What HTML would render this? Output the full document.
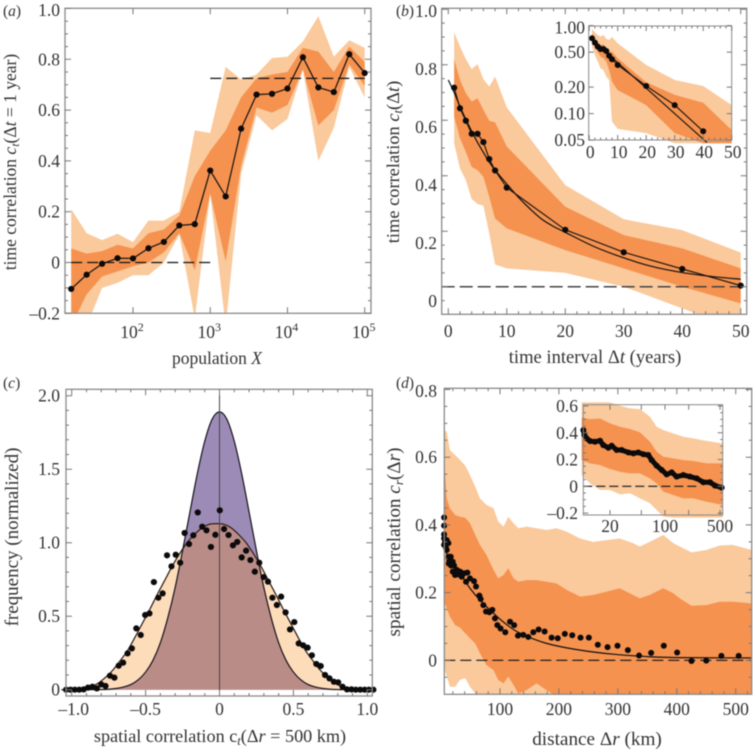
<!DOCTYPE html>
<html>
<head>
<meta charset="utf-8">
<title>Correlation panels</title>
<style>
html,body{margin:0;padding:0;background:#fff;}
#fig{display:block;filter:blur(.4px);}
text{font-family:"Liberation Serif",serif;fill:#333;}
.tl{font-size:17.5px;}
.pl{font-size:15.5px;}
</style>
</head>
<body>
<svg id="fig" xmlns="http://www.w3.org/2000/svg" width="753" height="754" viewBox="0 0 753 754">
<defs>
<clipPath id="clip-a"><rect x="65" y="8" width="306" height="305"/></clipPath>
<clipPath id="clip-b"><rect x="441.7" y="8.3" width="305" height="306"/></clipPath>
<clipPath id="clip-d"><rect x="444.3" y="388.3" width="307.4" height="306"/></clipPath>
<clipPath id="clip-d-inset"><rect x="578" y="400" width="146" height="118"/></clipPath>
</defs>
<g id="panel-a"></g>
<g id="panel-b"></g>
<g id="panel-c"></g>
<g id="panel-d"></g>

<text class="pl" x="3" y="16">(<tspan font-style="italic">a</tspan>)</text>
<text class="pl" x="396" y="16">(<tspan font-style="italic">b</tspan>)</text>
<text class="pl" x="3" y="388">(<tspan font-style="italic">c</tspan>)</text>
<text class="pl" x="396" y="388">(<tspan font-style="italic">d</tspan>)</text>

<text font-size="17.5" text-anchor="middle" transform="translate(16,162) rotate(-90)">time correlation <tspan font-style="italic">c</tspan><tspan font-style="italic" font-size="12" dy="3">t</tspan><tspan dy="-3">(Δ</tspan><tspan font-style="italic">t</tspan> = 1 year)</text>
<text font-size="17.5" text-anchor="middle" x="217" y="364">population <tspan font-style="italic">X</tspan></text>

<text font-size="18.4" text-anchor="middle" transform="translate(399,162) rotate(-90)">time correlation <tspan font-style="italic">c</tspan><tspan font-style="italic" font-size="12.5" dy="3">t</tspan><tspan dy="-3">(Δ</tspan><tspan font-style="italic">t</tspan>)</text>
<text font-size="18.6" text-anchor="middle" x="595" y="363">time interval Δ<tspan font-style="italic">t</tspan> (years)</text>

<text font-size="19" text-anchor="middle" transform="translate(18,537) rotate(-90)">frequency (normalized)</text>
<text font-size="18.2" text-anchor="middle" x="220" y="742">spatial correlation c<tspan font-style="italic" font-size="12.5" dy="3">t</tspan><tspan dy="-3">(Δ</tspan><tspan font-style="italic">r</tspan> = 500 km)</text>

<text font-size="19.2" text-anchor="middle" transform="translate(400,542) rotate(-90)">spatial correlation <tspan font-style="italic">c</tspan><tspan font-style="italic" font-size="13" dy="3">r</tspan><tspan dy="-3">(Δ</tspan><tspan font-style="italic">r</tspan>)</text>
<text font-size="19.2" text-anchor="middle" x="597" y="745">distance Δ<tspan font-style="italic">r</tspan> (km)</text>
</svg>

<script>
// ---------- Panel (a) data ----------
const aLogPopulation=[1.2,1.4,1.6,1.8,2.0,2.2,2.4,2.6,2.8,3.0,3.2,3.4,3.6,3.8,4.0,4.2,4.4,4.6,4.8,5.0];
const aCorrelation=[-0.104,-0.048,-0.005,0.017,0.016,0.056,0.081,0.146,0.151,0.362,0.26,0.527,0.661,0.664,0.685,0.808,0.689,0.671,0.82,0.746];
const aOuterUpper=[0.21,0.115,0.088,0.113,0.08,0.165,0.165,0.2,0.52,0.51,0.77,0.72,0.74,0.805,0.81,0.87,0.97,0.81,0.875,0.845];
const aOuterLower=[-0.35,-0.25,-0.1,-0.08,-0.05,-0.05,0.0,0.11,-0.22,0.27,-0.25,0.35,0.58,0.52,0.565,0.76,0.4,0.53,0.77,0.65];
const aInnerUpper=[0.055,0.035,0.045,0.07,0.055,0.115,0.13,0.185,0.34,0.44,0.52,0.65,0.725,0.74,0.75,0.845,0.83,0.75,0.85,0.79];
const aInnerLower=[-0.25,-0.125,-0.055,-0.035,-0.015,0.0,0.04,0.115,-0.03,0.27,0.005,0.38,0.61,0.59,0.62,0.76,0.54,0.6,0.78,0.695];
const aYTicks=[-0.2,0,0.2,0.4,0.6,0.8,1.0];
const aYLabels=["–0.2","0","0.2","0.4","0.6","0.8","1.0"];
const aYMinor=[-0.15,-0.1,-0.05,0.05,0.1,0.15,0.25,0.3,0.35,0.45,0.5,0.55,0.65,0.7,0.75,0.85,0.9,0.95];
const aXTicks=[2,3,4,5];

// ---------- Panel (b) data ----------
const bInterval=[1,2,3,4,5,6,7,8,10,20,30,40,50];
const bCorrelation=[0.717,0.643,0.598,0.551,0.551,0.521,0.46,0.419,0.357,0.205,0.124,0.064,0.004];
const bOuterUpper=[0.917,0.865,0.82,0.784,0.802,0.748,0.721,0.757,0.646,0.366,0.243,0.204,0.123];
const bOuterLower=[0.517,0.426,0.384,0.316,0.298,0.292,0.192,0.08,0.066,0.05,0,-0.078,-0.156];
const bInnerUpper=[0.819,0.745,0.697,0.667,0.679,0.637,0.598,0.592,0.505,0.288,0.186,0.138,0.066];
const bInnerLower=[0.613,0.535,0.486,0.432,0.42,0.396,0.324,0.246,0.21,0.132,0.066,0,-0.06];
const bFitInterval=[0,1,2,3,4,5,6,7,8,10,12,14,16,18,20,25,30,35,40,45,50];
const bFitValue=[0.745,0.7,0.649,0.603,0.56,0.52,0.484,0.449,0.42,0.37,0.322,0.28,0.243,0.217,0.196,0.144,0.104,0.072,0.051,0.037,0.027];
const bYTicks=[0,0.2,0.4,0.6,0.8,1.0];
const bYLabels=["0","0.2","0.4","0.6","0.8","1.0"];
const bYMinor=[-0.05,0.05,0.1,0.15,0.25,0.3,0.35,0.45,0.5,0.55,0.65,0.7,0.75,0.85,0.9,0.95];
const bXTicks=[0,10,20,30,40,50];
const bXMinor=[2,4,6,8,12,14,16,18,22,24,26,28,32,34,36,38,42,44,46,48];

// Inset of (b), log scale
const biInterval=[1,2,3,4,5,6,7,8,10,20,30,40];
const biCorrelation=[0.717,0.64,0.576,0.542,0.542,0.514,0.455,0.414,0.357,0.206,0.125,0.063];
const biBandInterval=[1,2,3,4,5,6,7,8,10,20,30,40,50];
const biOuterUpper=[0.915,0.839,0.782,0.749,0.782,0.704,0.686,0.742,0.629,0.357,0.241,0.206,0.125];
const biInnerUpper=[0.817,0.717,0.657,0.602,0.612,0.561,0.506,0.506,0.425,0.227,0.163,0.133,0.065];
const biInnerLower=[0.657,0.576,0.497,0.444,0.425,0.389,0.313,0.231,0.185,0.125,0.06,0.046,0.046];
const biOuterLower=[0.576,0.463,0.389,0.327,0.313,0.263,0.241,0.081,0.067,0.06,0.046,0.046,0.046];
const biFitInterval=[0,41.3];
const biFitValue=[0.74,0.047];
const biYTicks=[0.05,0.1,0.2,0.5,1];
const biYLabels=["0.05","0.10","0.20","0.50","1.00"];
const biXTicks=[0,10,20,30,40,50];
const biXMinor=[2,4,6,8,12,14,16,18,22,24,26,28,32,34,36,38,42,44,46,48];

// ---------- Panel (c) data ----------
const cBinCorrelation=[-1.038,-1.008,-0.979,-0.949,-0.919,-0.89,-0.86,-0.83,-0.8,-0.771,-0.741,-0.711,-0.682,-0.652,-0.622,-0.593,-0.563,-0.533,-0.503,-0.474,-0.444,-0.414,-0.385,-0.355,-0.325,-0.296,-0.266,-0.236,-0.206,-0.177,-0.147,-0.117,-0.088,-0.058,-0.028,0.002,0.031,0.061,0.091,0.12,0.15,0.18,0.209,0.239,0.269,0.299,0.328,0.358,0.388,0.417,0.447,0.477,0.506,0.536,0.566,0.596,0.625,0.655,0.685,0.714,0.744,0.774,0.803,0.833,0.863,0.893,0.922,0.952,0.982,1.011,1.041];
const cFrequency=[0,0,0,0,0.002,0.014,0.02,0.009,0.036,0.025,0.095,0.082,0.163,0.184,0.247,0.281,0.417,0.372,0.508,0.519,0.732,0.626,0.655,0.914,0.839,0.918,0.864,1.066,0.991,1.05,1.206,1.109,1.084,0.971,1.054,1.22,1.093,1.052,0.982,1.005,0.9,0.946,0.882,0.803,0.864,0.766,0.735,0.626,0.576,0.633,0.526,0.41,0.46,0.315,0.302,0.286,0.234,0.175,0.161,0.1,0.077,0.054,0.05,0.02,0.002,0.002,0,0,0,0,0];
const cOrangeX=[-1.07,-0.97,-0.92,-0.87,-0.82,-0.77,-0.72,-0.67,-0.62,-0.57,-0.52,-0.47,-0.42,-0.37,-0.32,-0.27,-0.22,-0.17,-0.12,-0.07,-0.02,0.03,0.08,0.13,0.18,0.23,0.28,0.33,0.38,0.43,0.48,0.53,0.58,0.63,0.68,0.73,0.78,0.83,0.88,0.93,1.03];
const cOrangeY=[0,0,0.005,0.02,0.045,0.085,0.135,0.2,0.27,0.36,0.455,0.55,0.65,0.745,0.84,0.925,1.0,1.055,1.1,1.125,1.13,1.125,1.1,1.055,1.0,0.925,0.84,0.745,0.65,0.55,0.455,0.36,0.27,0.2,0.135,0.085,0.045,0.02,0.005,0,0];
const cPurpleX=[-1.05,-0.85,-0.8,-0.75,-0.7,-0.65,-0.6,-0.55,-0.5,-0.45,-0.4,-0.35,-0.3,-0.25,-0.2,-0.15,-0.1,-0.05,0,0.05,0.1,0.15,0.2,0.25,0.3,0.35,0.4,0.45,0.5,0.55,0.6,0.65,0.7,0.75,0.8,0.85,1.05];
const cPurpleY=[0,0,0.001,0.003,0.008,0.018,0.035,0.067,0.12,0.2,0.32,0.488,0.695,0.945,1.21,1.47,1.69,1.84,1.89,1.84,1.69,1.47,1.21,0.945,0.695,0.488,0.32,0.2,0.12,0.067,0.035,0.018,0.008,0.003,0.001,0,0];
const cYTicks=[0,0.5,1.0,1.5,2.0];
const cYLabels=["0","0.5","1.0","1.5","2.0"];
const cYMinor=[0.1,0.2,0.3,0.4,0.6,0.7,0.8,0.9,1.1,1.2,1.3,1.4,1.6,1.7,1.8,1.9];
const cXTicks=[-1,-0.5,0,0.5,1];
const cXLabels=["–1.0","–0.5","0","0.5","1.0"];
const cXMinor=[-0.9,-0.8,-0.7,-0.6,-0.4,-0.3,-0.2,-0.1,0.1,0.2,0.3,0.4,0.6,0.7,0.8,0.9];

// ---------- Panel (d) data ----------
const dDistance=[5.1,5.1,5.1,5.1,6.8,5.1,9.6,8.5,12.4,9.6,14.1,16.4,13,19.8,16.9,22,19.8,25.4,29.4,35,39,44.6,49,55.9,59.3,65,67.2,71.8,76.3,82,87,91.5,95.5,101,109,117,124,130.5,139.5,148,156.5,165.5,175.7,187.6,198,210,222.6,236.7,250.8,266,282.5,299.4,317,336,356.5,378,400.6,425,450,475.7,505,23.7,32.2,42.4,26.6,13];
const dCorrelation=[0.422,0.398,0.372,0.36,0.35,0.341,0.355,0.331,0.346,0.326,0.296,0.306,0.286,0.291,0.28,0.28,0.262,0.262,0.254,0.247,0.257,0.259,0.242,0.234,0.218,0.191,0.181,0.163,0.144,0.142,0.149,0.124,0.104,0.094,0.083,0.114,0.104,0.073,0.075,0.069,0.083,0.091,0.085,0.067,0.065,0.078,0.074,0.067,0.067,0.046,0.039,0.043,0.03,0.014,0.022,0.043,0.023,-0.002,-0.001,0.013,0.013,0.252,0.262,0.232,0.267,0.306];
const dBandDistance=[5.6,9.6,15,24,32,41,49,58,66,77,89,97,106,114,123,131,145,162,179,196,213,236,258,281,303,326,337,354,377,394,405,425,450,473,495,527];
const dOuterUpper=[0.68,0.675,0.621,0.606,0.592,0.575,0.547,0.513,0.478,0.459,0.449,0.41,0.395,0.424,0.405,0.39,0.395,0.39,0.385,0.39,0.38,0.36,0.35,0.355,0.36,0.346,0.336,0.35,0.37,0.346,0.336,0.319,0.326,0.339,0.341,0.326];
const dInnerUpper=[0.582,0.478,0.449,0.429,0.424,0.421,0.405,0.37,0.341,0.311,0.267,0.242,0.252,0.272,0.242,0.232,0.237,0.237,0.232,0.227,0.208,0.188,0.193,0.203,0.213,0.193,0.183,0.193,0.213,0.198,0.183,0.161,0.163,0.173,0.173,0.168];
const dInnerLower=[0.173,0.154,0.129,0.104,0.097,0.08,0.065,0.05,0.021,-0.014,-0.029,-0.058,-0.068,-0.048,-0.073,-0.098,-0.088,-0.068,-0.088,-0.107,-0.117,-0.117,-0.117,-0.117,-0.117,-0.117,-0.117,-0.117,-0.117,-0.117,-0.117,-0.117,-0.117,-0.117,-0.117,-0.117];
const dOuterLower=[-0.024,-0.048,-0.078,-0.078,-0.058,-0.053,-0.078,-0.098,-0.122,-0.13,-0.13,-0.13,-0.13,-0.13,-0.13,-0.13,-0.13,-0.13,-0.13,-0.13,-0.13,-0.13,-0.13,-0.13,-0.13,-0.13,-0.13,-0.13,-0.13,-0.13,-0.13,-0.13,-0.13,-0.13,-0.13,-0.13];
const dFitDistance=[5.6,21,38,49,66,92,111,134,179,236,292,349,405,527];
const dFitValue=[0.33,0.277,0.242,0.213,0.178,0.134,0.106,0.08,0.05,0.03,0.018,0.011,0.008,0.007];
const dYTicks=[0,0.2,0.4,0.6,0.8];
const dYLabels=["0","0.2","0.4","0.6","0.8"];
const dYMinor=[-0.05,0.05,0.1,0.15,0.25,0.3,0.35,0.45,0.5,0.55,0.65,0.7,0.75];
const dXTicks=[100,200,300,400,500];
const dXMinor=[20,40,60,80,120,140,160,180,220,240,260,280,320,340,360,380,420,440,460,480,520];

// Inset of (d), log-distance scale
const diLogDistance=[0.962,0.975,1.004,1.047,1.11,1.174,1.216,1.28,1.322,1.386,1.449,1.534,1.598,1.661,1.725,1.788,1.831,1.894,1.958,2.021,2.085,2.148,2.233,2.318,2.403,2.487,2.572,2.636,2.72];
const diCorrelation=[0.42,0.383,0.358,0.338,0.333,0.34,0.308,0.288,0.303,0.271,0.271,0.253,0.246,0.253,0.239,0.234,0.196,0.154,0.122,0.089,0.104,0.072,0.084,0.072,0.059,0.03,0.03,0.005,-0.01];
const diBandLogDistance=[0.941,1.047,1.174,1.301,1.428,1.555,1.682,1.809,1.894,1.979,2.106,2.233,2.36,2.53,2.733];
const diOuterUpper=[0.627,0.627,0.627,0.627,0.602,0.582,0.577,0.52,0.445,0.42,0.395,0.37,0.358,0.338,0.321];
const diInnerUpper=[0.512,0.502,0.507,0.47,0.445,0.428,0.403,0.333,0.258,0.221,0.209,0.196,0.189,0.171,0.171];
const diInnerLower=[0.196,0.171,0.159,0.129,0.109,0.097,0.097,0.059,0.022,-0.04,-0.065,-0.09,-0.09,-0.115,-0.139];
const diOuterLower=[0.084,0.022,-0.028,-0.028,-0.06,-0.052,-0.09,-0.127,-0.177,-0.227,-0.234,-0.234,-0.234,-0.234,-0.234];
const diYTicks=[-0.2,0,0.2,0.4,0.6];
const diYLabels=["–0.2","0","0.2","0.4","0.6"];
const diYMinor=[-0.15,-0.1,-0.05,0.05,0.1,0.15,0.25,0.3,0.35,0.45,0.5,0.55];
const diXTicks=[20,50,100,200,500];
const diXLabelled=[20,100,500];

// ---------- Helpers ----------
const NS="http://www.w3.org/2000/svg";
const LIGHT="#fac99c", DARK="#f5924f", FRAME="#8a8a8a", TICK="#777";
function lin(d0,p0,d1,p1){return v=>p0+(v-d0)*(p1-p0)/(d1-d0);}
function mk(parent,tag,attrs,name){
  const el=document.createElementNS(NS,tag);
  for(const k in attrs)el.setAttribute(k,attrs[k]);
  
  
  parent.appendChild(el);
  return el;
}
function linePath(xs,ys,fx,fy){return xs.map((x,i)=>(i?"L":"M")+fx(x).toFixed(2)+" "+fy(ys[i]).toFixed(2)).join(" ");}
function smoothPath(xs,ys,fx,fy){
  const p=xs.map((x,i)=>[fx(x),fy(ys[i])]);
  let d="M"+p[0][0].toFixed(2)+" "+p[0][1].toFixed(2);
  for(let i=0;i<p.length-1;i++){
    const a=p[Math.max(i-1,0)],b=p[i],c=p[i+1],e=p[Math.min(i+2,p.length-1)];
    const c1=[b[0]+(c[0]-a[0])/6,b[1]+(c[1]-a[1])/6];
    const c2=[c[0]-(e[0]-b[0])/6,c[1]-(e[1]-b[1])/6];
    d+=` C${c1[0].toFixed(2)} ${c1[1].toFixed(2)} ${c2[0].toFixed(2)} ${c2[1].toFixed(2)} ${c[0].toFixed(2)} ${c[1].toFixed(2)}`;
  }
  return d;
}
function bandPath(xs,up,lo,fx,fy){
  const a=xs.map((x,i)=>fx(x).toFixed(2)+" "+fy(up[i]).toFixed(2));
  const b=xs.map((x,i)=>fx(x).toFixed(2)+" "+fy(lo[i]).toFixed(2)).reverse();
  return "M"+a.concat(b).join(" L")+" Z";
}
function dots(parent,xs,ys,fx,fy,r,name){
  xs.forEach((x,i)=>{mk(parent,"circle",{cx:fx(x).toFixed(2),cy:fy(ys[i]).toFixed(2),r:r,fill:"#0c0a0a"},name);});
}
function frame(parent,b,w,name){
  mk(parent,"rect",{x:b.x0,y:b.y0,width:b.x1-b.x0,height:b.y1-b.y0,fill:"none",stroke:FRAME,"stroke-width":w},name);
}
function xTicks(parent,b,vals,fx,len,name){
  let d="";
  vals.forEach(v=>{const x=fx(v).toFixed(2);d+=`M${x} ${b.y1}V${b.y1-len}M${x} ${b.y0}V${b.y0+len}`;});
  mk(parent,"path",{d:d,stroke:TICK,"stroke-width":1,fill:"none"},name);
}
function yTicks(parent,b,vals,fy,len,name){
  let d="";
  vals.forEach(v=>{const y=fy(v).toFixed(2);d+=`M${b.x0} ${y}H${b.x0+len}M${b.x1} ${y}H${b.x1-len}`;});
  mk(parent,"path",{d:d,stroke:TICK,"stroke-width":1,fill:"none"},name);
}
function label(parent,x,y,txt,anchor,name){
  const t=mk(parent,"text",{x:x,y:y,"text-anchor":anchor,class:"tl"},name);
  t.textContent=txt;
  return t;
}

// ---------- Panel (a) ----------
(function(){
  const g=document.getElementById("panel-a");
  const b={x0:65,x1:371,y0:8.3,y1:313.3};
  const fx=lin(2,133,5,364.7), fy=lin(0,262.5,0.8,59.3);
  const bands=mk(g,"g",{"clip-path":"url(#clip-a)"},"a-confidence-bands");
  mk(bands,"path",{d:bandPath(aLogPopulation,aOuterUpper,aOuterLower,fx,fy),fill:LIGHT},"a-outer-band");
  mk(bands,"path",{d:bandPath(aLogPopulation,aInnerUpper,aInnerLower,fx,fy),fill:DARK},"a-inner-band");
  mk(g,"line",{x1:fx(1.2),x2:fx(3.0),y1:fy(0),y2:fy(0),stroke:"#111","stroke-width":1.2,"stroke-dasharray":"11 5"},"a-zero-dashed-line");
  mk(g,"line",{x1:fx(3.0),x2:fx(5.0),y1:fy(0.725),y2:fy(0.725),stroke:"#111","stroke-width":1.2,"stroke-dasharray":"11 5"},"a-saturation-dashed-line");
  mk(g,"path",{d:linePath(aLogPopulation,aCorrelation,fx,fy),fill:"none",stroke:"#111","stroke-width":1.2},"a-correlation-line");
  dots(g,aLogPopulation,aCorrelation,fx,fy,3.1,"a-correlation-point");
  frame(g,b,1.3,"a-plot-frame");
  yTicks(g,b,aYTicks,fy,6,"a-y-major-ticks");
  yTicks(g,b,aYMinor,fy,3,"a-y-minor-ticks");
  xTicks(g,b,aXTicks,fx,6,"a-x-major-ticks");
  aYTicks.forEach((v,i)=>{label(g,60,fy(v)+(v===1?7.5:6),aYLabels[i],"end","a-y-tick-label");});
  aXTicks.forEach(v=>{
    const t=label(g,fx(v)-1,338,"10","middle","a-x-tick-label");
    const s=document.createElementNS(NS,"tspan");
    s.setAttribute("font-size","12");
    s.setAttribute("dy","-7");
    s.textContent=String(v);
    t.appendChild(s);
  });
})();

// ---------- Panel (b) ----------
(function(){
  const g=document.getElementById("panel-b");
  const b={x0:441.7,x1:746.7,y0:8.3,y1:314.3};
  const fx=lin(0,448.3,50,740.7), fy=lin(0,286.7,1,9.2), fLabel=lin(0,301,1,11);
  const bands=mk(g,"g",{"clip-path":"url(#clip-b)"},"b-confidence-bands");
  mk(bands,"path",{d:bandPath(bInterval,bOuterUpper,bOuterLower,fx,fy),fill:LIGHT},"b-outer-band");
  mk(bands,"path",{d:bandPath(bInterval,bInnerUpper,bInnerLower,fx,fy),fill:DARK},"b-inner-band");
  mk(g,"line",{x1:b.x0,x2:b.x1,y1:fy(0),y2:fy(0),stroke:"#444","stroke-width":1.5,"stroke-dasharray":"13 5"},"b-zero-dashed-line");
  mk(g,"path",{d:smoothPath(bFitInterval,bFitValue,fx,fy),fill:"none",stroke:"#111","stroke-width":1.2},"b-fit-curve");
  mk(g,"path",{d:linePath(bInterval,bCorrelation,fx,fy),fill:"none",stroke:"#111","stroke-width":1.1},"b-correlation-line");
  dots(g,bInterval,bCorrelation,fx,fy,3.1,"b-correlation-point");
  frame(g,b,1.3,"b-plot-frame");
  yTicks(g,b,bYTicks,fy,6,"b-y-major-ticks");
  yTicks(g,b,bYMinor,fy,3,"b-y-minor-ticks");
  xTicks(g,b,bXTicks,fx,6,"b-x-major-ticks");
  xTicks(g,b,bXMinor,fx,3,"b-x-minor-ticks");
  bYTicks.forEach((v,i)=>{label(g,437,fLabel(v)+6,bYLabels[i],"end","b-y-tick-label");});
  bXTicks.forEach(v=>{label(g,fx(v),337,String(v),"middle","b-x-tick-label");});

  // inset
  const ib={x0:588.7,x1:731.7,y0:26,y1:140};
  const ifx=lin(0,589.2,50,731.7), ify=v=>25.6-88*Math.log10(v);
  const ins=mk(g,"g",{},"b-inset");
  mk(ins,"path",{d:bandPath(biBandInterval,biOuterUpper,biOuterLower,ifx,ify),fill:LIGHT},"b-inset-outer-band");
  mk(ins,"path",{d:bandPath(biBandInterval,biInnerUpper,biInnerLower,ifx,ify),fill:DARK},"b-inset-inner-band");
  mk(ins,"path",{d:linePath(biFitInterval,biFitValue,ifx,ify),fill:"none",stroke:"#111","stroke-width":1.1},"b-inset-fit-line");
  mk(ins,"path",{d:linePath(biInterval,biCorrelation,ifx,ify),fill:"none",stroke:"#111","stroke-width":1.1},"b-inset-correlation-line");
  dots(ins,biInterval,biCorrelation,ifx,ify,3,"b-inset-correlation-point");
  frame(ins,ib,1,"b-inset-frame");
  yTicks(ins,ib,biYTicks,ify,5,"b-inset-y-ticks");
  xTicks(ins,ib,biXTicks,ifx,5,"b-inset-x-major-ticks");
  xTicks(ins,ib,biXMinor,ifx,2.5,"b-inset-x-minor-ticks");
  biYTicks.forEach((v,i)=>{label(ins,585,ify(v)+(v===1?8:6),biYLabels[i],"end","b-inset-y-tick-label");});
  biXTicks.forEach(v=>{label(ins,ifx(v)+1,158,String(v),"middle","b-inset-x-tick-label");});
})();

// ---------- Panel (c) ----------
(function(){
  const g=document.getElementById("panel-c");
  const b={x0:66,x1:372.3,y0:389.3,y1:696};
  const fx=lin(0,219.5,1,367.3), fy=lin(0,689.7,2,395.7);
  const orangeLine=smoothPath(cOrangeX,cOrangeY,fx,fy);
  const purpleLine=smoothPath(cPurpleX,cPurpleY,fx,fy);
  const orangeD=orangeLine+" Z";
  const purpleD=purpleLine+" Z";
  const defs=document.querySelector("#fig defs");
  const cp=document.createElementNS(NS,"clipPath");
  cp.setAttribute("id","clip-c-orange");
  const cpp=document.createElementNS(NS,"path");
  cpp.setAttribute("d",orangeD);
  cp.appendChild(cpp);
  defs.appendChild(cp);
  mk(g,"path",{d:orangeD,fill:"#fddcb9"},"c-broad-distribution-area");
  mk(g,"path",{d:purpleD,fill:"#9c8bb6"},"c-narrow-distribution-area");
  mk(g,"path",{d:purpleD,fill:"#ba8c88","clip-path":"url(#clip-c-orange)"},"c-overlap-area");
  mk(g,"path",{d:orangeLine,fill:"none",stroke:"#2a1a14","stroke-width":1.2},"c-broad-distribution-curve");
  mk(g,"path",{d:purpleLine,fill:"none",stroke:"#15121c","stroke-width":1.2},"c-narrow-distribution-curve");
  mk(g,"line",{x1:fx(0),x2:fx(0),y1:b.y0,y2:b.y1,stroke:"#444","stroke-width":1},"c-zero-vertical-line");
  dots(g,cBinCorrelation,cFrequency,fx,fy,3.1,"c-frequency-point");
  frame(g,b,1.3,"c-plot-frame");
  yTicks(g,b,cYTicks,fy,6,"c-y-major-ticks");
  yTicks(g,b,cYMinor,fy,3,"c-y-minor-ticks");
  xTicks(g,b,cXTicks,fx,6,"c-x-major-ticks");
  xTicks(g,b,cXMinor,fx,3,"c-x-minor-ticks");
  cYTicks.forEach((v,i)=>{label(g,60,fy(v)+6,cYLabels[i],"end","c-y-tick-label");});
  cXTicks.forEach((v,i)=>{label(g,fx(v)+(v===-1?2:0),715,cXLabels[i],"middle","c-x-tick-label");});
})();

// ---------- Panel (d) ----------
(function(){
  const g=document.getElementById("panel-d");
  const b={x0:444.3,x1:751.7,y0:388.3,y1:694.3};
  const fx=lin(100,500,500,735.7), fy=lin(0,660.3,0.8,389.5);
  const bands=mk(g,"g",{"clip-path":"url(#clip-d)"},"d-confidence-bands");
  mk(bands,"path",{d:bandPath(dBandDistance,dOuterUpper,dOuterLower,fx,fy),fill:LIGHT},"d-outer-band");
  mk(bands,"path",{d:bandPath(dBandDistance,dInnerUpper,dInnerLower,fx,fy),fill:DARK},"d-inner-band");
  mk(g,"line",{x1:b.x0,x2:b.x1,y1:fy(0),y2:fy(0),stroke:"#111","stroke-width":1.2,"stroke-dasharray":"11 5"},"d-zero-dashed-line");
  mk(g,"path",{d:smoothPath(dFitDistance,dFitValue,fx,fy),fill:"none",stroke:"#111","stroke-width":1.2},"d-fit-curve");
  dots(g,dDistance,dCorrelation,fx,fy,3,"d-correlation-point");
  frame(g,b,1.3,"d-plot-frame");
  yTicks(g,b,dYTicks,fy,6,"d-y-major-ticks");
  yTicks(g,b,dYMinor,fy,3,"d-y-minor-ticks");
  xTicks(g,b,dXTicks,fx,6,"d-x-major-ticks");
  xTicks(g,b,dXMinor,fx,3,"d-x-minor-ticks");
  dYTicks.forEach((v,i)=>{label(g,437,fy(v)+(v===0.8?7.5:6),dYLabels[i],"end","d-y-tick-label");});
  dXTicks.forEach(v=>{label(g,fx(v),715,String(v),"middle","d-x-tick-label");});

  // inset
  const ib={x0:583.3,x1:722.7,y0:404.7,y1:515};
  const ifl=lin(Math.log10(20),610,Math.log10(500),720), ify=lin(0,486.3,0.6,406);
  const ifr=r=>ifl(Math.log10(r));
  const ins=mk(g,"g",{},"d-inset");
  const ibands=mk(ins,"g",{"clip-path":"url(#clip-d-inset)"},"d-inset-bands");
  mk(ibands,"path",{d:bandPath(diBandLogDistance,diOuterUpper,diOuterLower,ifl,ify),fill:LIGHT},"d-inset-outer-band");
  mk(ibands,"path",{d:bandPath(diBandLogDistance,diInnerUpper,diInnerLower,ifl,ify),fill:DARK},"d-inset-inner-band");
  mk(ins,"line",{x1:ib.x0,x2:ifl(2.45),y1:ify(0),y2:ify(0),stroke:"#111","stroke-width":1.1,"stroke-dasharray":"9 4"},"d-inset-zero-dashed-line");
  mk(ins,"path",{d:linePath(diLogDistance,diCorrelation,ifl,ify),fill:"none",stroke:"#0c0a0a","stroke-width":5},"d-inset-correlation-chain");
  dots(ins,diLogDistance,diCorrelation,ifl,ify,3,"d-inset-correlation-point");
  frame(ins,ib,1,"d-inset-frame");
  yTicks(ins,ib,diYTicks,ify,5,"d-inset-y-major-ticks");
  yTicks(ins,ib,diYMinor,ify,2.5,"d-inset-y-minor-ticks");
  xTicks(ins,ib,diXTicks,ifr,5,"d-inset-x-ticks");
  diYTicks.forEach((v,i)=>{label(ins,578,ify(v)+6,diYLabels[i],"end","d-inset-y-tick-label");});
  diXLabelled.forEach(v=>{label(ins,ifr(v),532,String(v),"middle","d-inset-x-tick-label");});
})();
</script>
</body>
</html>
